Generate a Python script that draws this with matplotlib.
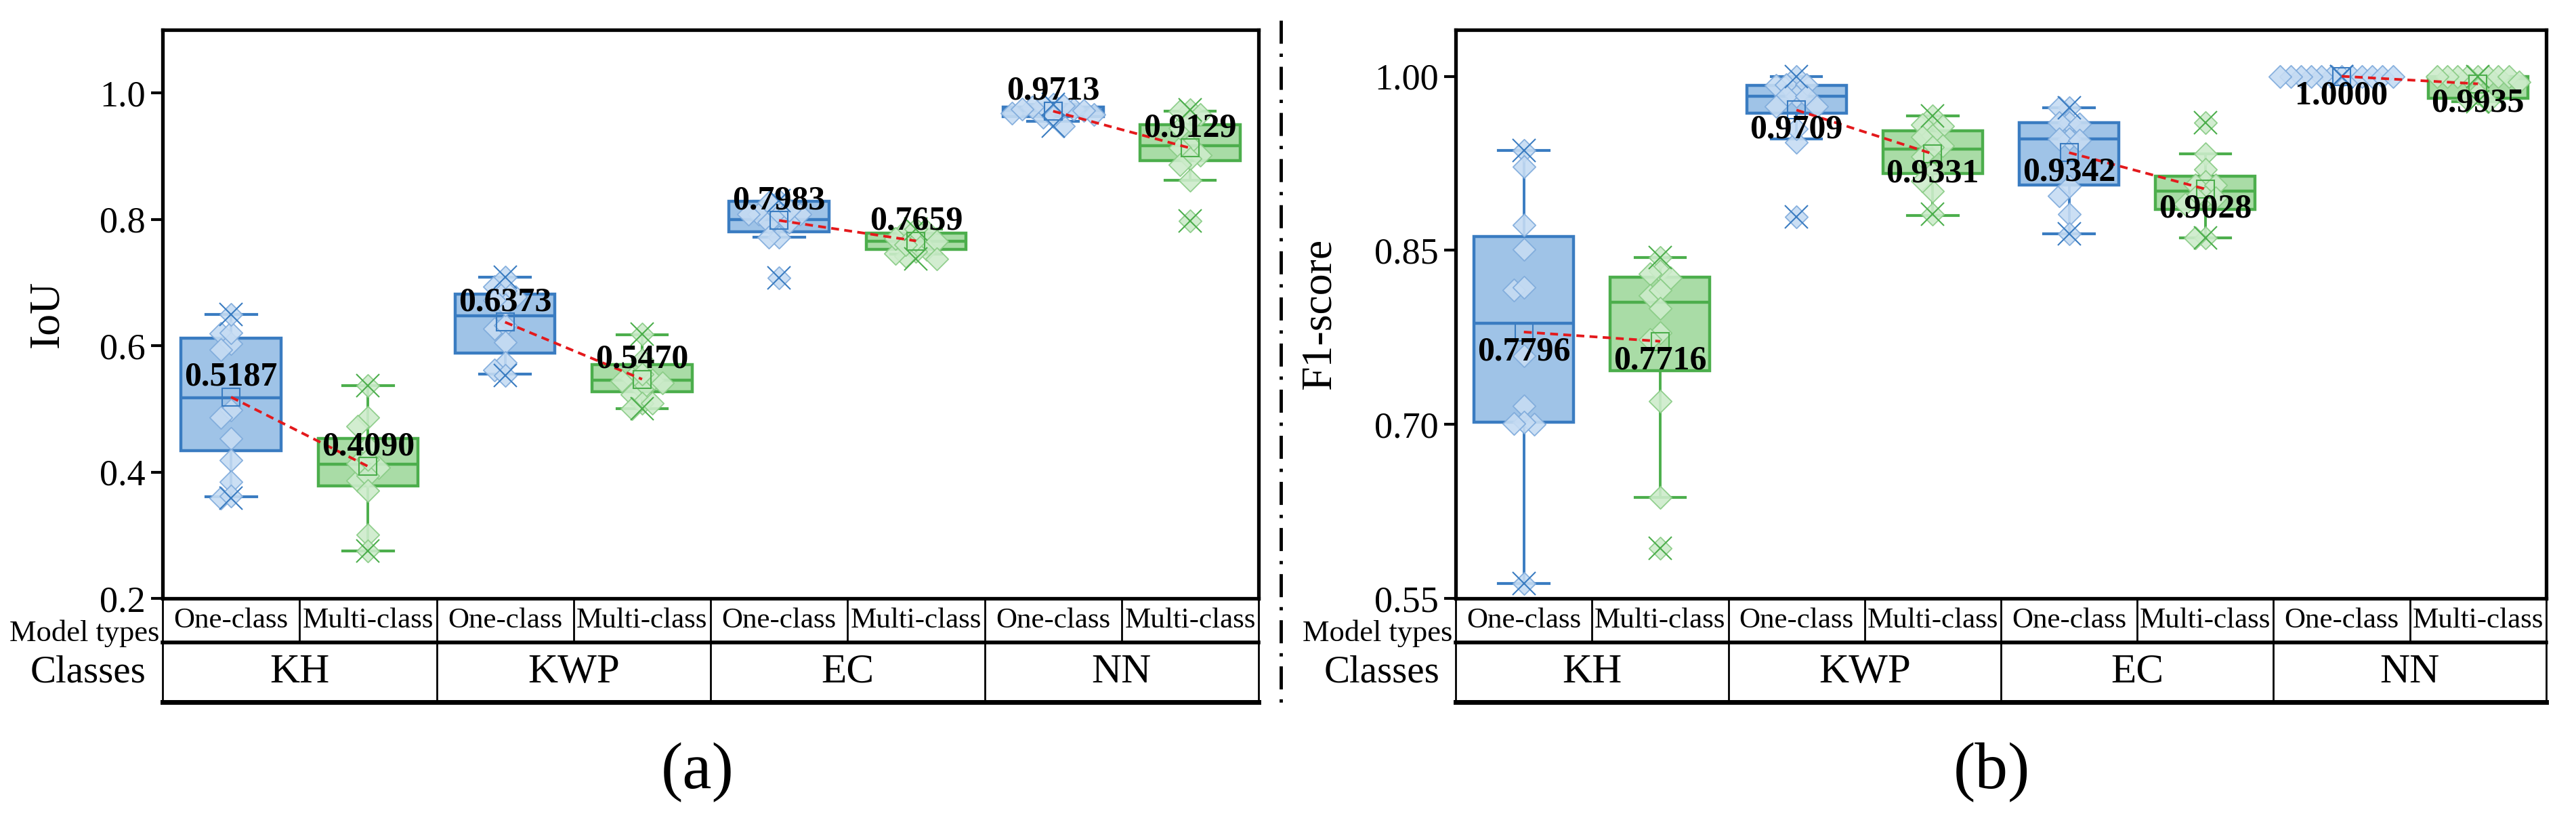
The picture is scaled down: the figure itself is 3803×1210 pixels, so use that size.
import matplotlib.pyplot as plt
import numpy as np
from matplotlib.lines import Line2D

plt.rcParams['font.family'] = ['Liberation Serif', 'DejaVu Serif']

model_types = ['One-class', 'Multi-class', 'One-class', 'Multi-class',
               'One-class', 'Multi-class', 'One-class', 'Multi-class']
classes = ['KH', 'KWP', 'EC', 'NN']

# Box order: KH one, KH multi, KWP one, KWP multi, EC one, EC multi, NN one, NN multi
iou_points = [
    [0.619, 0.603, 0.594, 0.621, 0.650, 0.498, 0.487, 0.453, 0.419, 0.385, 0.359, 0.362],
    [0.487, 0.473, 0.407, 0.387, 0.414, 0.394, 0.371, 0.301, 0.537, 0.275, 0.440, 0.420],
    [0.677, 0.693, 0.687, 0.709, 0.627, 0.632, 0.606, 0.573, 0.562, 0.553, 0.665, 0.672],
    [0.549, 0.546, 0.544, 0.541, 0.532, 0.523, 0.509, 0.509, 0.578, 0.618, 0.500, 0.555],
    [0.808, 0.795, 0.808, 0.830, 0.810, 0.808, 0.795, 0.772, 0.772, 0.707, 0.826, 0.815],
    [0.752, 0.749, 0.767, 0.782, 0.742, 0.746, 0.781, 0.770, 0.785, 0.760, 0.765, 0.737],
    [0.975, 0.968, 0.982, 0.962, 0.980, 0.948, 0.966, 0.980, 0.972, 0.978, 0.975, 0.963],
    [0.973, 0.966, 0.918, 0.913, 0.902, 0.896, 0.887, 0.862, 0.798, 0.971, 0.945, 0.955],
]
iou_q1 = [0.434, 0.378, 0.588, 0.527, 0.780, 0.752, 0.963, 0.893]
iou_med = [0.518, 0.412, 0.647, 0.545, 0.800, 0.765, 0.972, 0.917]
iou_q3 = [0.612, 0.453, 0.682, 0.570, 0.829, 0.778, 0.978, 0.950]
iou_lo = [0.361, 0.275, 0.555, 0.500, 0.772, 0.745, 0.955, 0.862]
iou_hi = [0.650, 0.537, 0.709, 0.617, 0.829, 0.785, 0.982, 0.971]
iou_mean = [0.5187, 0.4090, 0.6373, 0.5470, 0.7983, 0.7659, 0.9713, 0.9129]

f1_points = [
    [0.936, 0.922, 0.872, 0.851, 0.816, 0.818, 0.759, 0.716, 0.700, 0.702, 0.701, 0.563],
    [0.844, 0.832, 0.830, 0.826, 0.811, 0.816, 0.800, 0.779, 0.773, 0.720, 0.637, 0.593],
    [1.000, 0.992, 0.993, 0.993, 0.983, 0.983, 0.983, 0.974, 0.974, 0.943, 0.879, 0.955],
    [0.966, 0.958, 0.957, 0.949, 0.948, 0.940, 0.939, 0.931, 0.917, 0.901, 0.881, 0.910],
    [0.973, 0.973, 0.960, 0.960, 0.959, 0.946, 0.946, 0.945, 0.897, 0.881, 0.864, 0.905],
    [0.960, 0.933, 0.920, 0.909, 0.906, 0.906, 0.896, 0.896, 0.861, 0.861, 0.895, 0.890],
    [1.000, 1.000, 1.000, 1.000, 1.000, 1.000, 1.000, 1.000, 1.000, 1.000, 1.000, 1.000],
    [1.000, 1.000, 1.000, 1.000, 1.000, 1.000, 1.000, 1.000, 0.995, 0.985, 0.980, 0.978],
]
f1_q1 = [0.702, 0.746, 0.968, 0.916, 0.906, 0.885, 1.000, 0.981]
f1_med = [0.787, 0.805, 0.983, 0.937, 0.946, 0.901, 1.000, 0.998]
f1_q3 = [0.862, 0.827, 0.992, 0.953, 0.960, 0.914, 1.000, 1.000]
f1_lo = [0.563, 0.637, 0.946, 0.880, 0.864, 0.861, 1.000, 0.978]
f1_hi = [0.936, 0.844, 1.000, 0.966, 0.973, 0.933, 1.000, 1.000]
f1_mean = [0.7796, 0.7716, 0.9709, 0.9331, 0.9342, 0.9028, 1.0000, 0.9935]

# (box edge, box face, diamond face, diamond edge)
PALETTE = [('#3a7cc1', '#9fc3e7', '#c6dcf3', '#7eaadb'),
           ('#4cae4c', '#a9dca6', '#cdeccb', '#88cb84')]
RED = '#e3191c'


def swarm_offsets(vals, dx, dy, step):
    # Spread equal-ish values sideways so the diamonds do not stack
    vals = np.asarray(vals)
    offs = np.zeros(len(vals))
    placed = []
    cand = [0.0]
    for j in range(1, 30):
        cand += [-j * step, j * step]
    for i in np.argsort(-vals, kind='stable'):
        for c in cand:
            ok = all(abs(c - offs[p]) >= dx or abs(vals[i] - vals[p]) >= dy
                     for p in placed)
            if ok:
                offs[i] = c
                break
        placed.append(i)
    return offs


def draw_panel(ax, tab, points, q1, med, q3, lo, hi, means,
               ylim, yticks, yfmt, ylabel, label_dy, dy):
    pos = np.arange(1, 9)

    # Boxes
    stats = []
    for i in range(8):
        stats.append(dict(q1=q1[i], med=med[i], q3=q3[i],
                          whislo=lo[i], whishi=hi[i], fliers=[]))
    bp = ax.bxp(stats, positions=pos, widths=0.73, capwidths=0.37,
                patch_artist=True, showfliers=False, manage_ticks=False)
    for i in range(8):
        edge, face, dface, dedge = PALETTE[i % 2]
        bp['boxes'][i].set(facecolor=face, edgecolor=edge, linewidth=3.2,
                           zorder=2)
        bp['medians'][i].set(color=edge, linewidth=3.2, zorder=2.5)
        for k in (2 * i, 2 * i + 1):
            bp['whiskers'][k].set(color=edge, linewidth=2.8, zorder=1.5)
            bp['caps'][k].set(color=edge, linewidth=3, zorder=1.5)

    # Data points, min/max crosses and mean squares
    for i in range(8):
        edge, face, dface, dedge = PALETTE[i % 2]
        vals = np.array(points[i])
        offs = swarm_offsets(vals, 0.07, dy, 0.075)
        ax.scatter(pos[i] + offs, vals, marker='D', s=17 ** 2,
                   facecolor=dface, edgecolor=dedge, linewidths=1.3,
                   alpha=0.9, zorder=3)
        ax.plot([pos[i], pos[i]], [vals.min(), vals.max()], ls='none',
                marker='x', ms=24, mew=1.5, color=edge, zorder=4)
        ax.plot(pos[i], means[i], marker='s', ms=19, mfc='none',
                mec=edge, mew=1.5, zorder=4)

    # Mean connection and labels
    for c in range(4):
        ax.plot(pos[2 * c:2 * c + 2], means[2 * c:2 * c + 2], ls=(0, (3, 2)),
                color=RED, lw=2.8, zorder=5)
    for p, m in zip(pos, means):
        ax.annotate(f'{m:.4f}', (p, m), xytext=(0, label_dy),
                    textcoords='offset points', ha='center', va='center',
                    fontsize=36, fontweight='bold', zorder=6)

    ax.set_xlim(0.5, 8.5)
    ax.set_ylim(*ylim)
    ax.set_xticks([])
    ax.set_yticks(yticks)
    ax.set_yticklabels([yfmt.format(t) for t in yticks])
    ax.tick_params(axis='y', direction='out', length=12, width=3,
                   labelsize=39, pad=6)
    for s in ax.spines.values():
        s.set_linewidth(3.8)
    ax.set_ylabel(ylabel, fontsize=46)

    # Table under the axis
    split = 0.575
    tab.set_xlim(0.5, 8.5)
    tab.set_ylim(0, 1)
    tab.axis('off')
    tab.plot([0.5, 8.5], [split, split], color='k', lw=4, clip_on=False)
    tab.plot([0.5, 8.5], [0, 0], color='k', lw=5, clip_on=False)
    for b in range(9):
        bottom = 0 if b % 2 == 0 else split
        tab.plot([0.5 + b, 0.5 + b], [bottom, 1], color='k', lw=2,
                 clip_on=False)
    for p, name in zip(pos, model_types):
        tab.text(p, (split + 1) / 2, name, ha='center', va='center',
                 fontsize=31)
    for c, name in enumerate(classes):
        tab.text(2 * c + 1.5, split / 2, name, ha='center', va='center',
                 fontsize=44)
    tab.text(-0.003, 0.66, 'Model types', transform=tab.transAxes,
             ha='right', va='center', fontsize=32)
    tab.text(-0.068, split / 2, 'Classes', transform=tab.transAxes,
             ha='center', va='center', fontsize=41)


def main():
    fig = plt.figure(figsize=(38.03, 12.10), dpi=100)

    ax1 = fig.add_axes([0.0631, 0.2702, 0.4255, 0.6934])
    tab1 = fig.add_axes([0.0631, 0.1438, 0.4255, 0.1264])
    ax2 = fig.add_axes([0.5651, 0.2702, 0.4233, 0.6934])
    tab2 = fig.add_axes([0.5651, 0.1438, 0.4233, 0.1264])

    draw_panel(ax1, tab1, iou_points, iou_q1, iou_med, iou_q3, iou_lo,
               iou_hi, iou_mean, (0.2, 1.1), [0.2, 0.4, 0.6, 0.8, 1.0],
               '{:.1f}', 'IoU', 21, 0.018)
    draw_panel(ax2, tab2, f1_points, f1_q1, f1_med, f1_q3, f1_lo,
               f1_hi, f1_mean, (0.55, 1.04), [0.55, 0.70, 0.85, 1.00],
               '{:.2f}', 'F1-score', -21, 0.010)
    ax1.yaxis.set_label_coords(-0.087, 0.5)
    ax2.yaxis.set_label_coords(-0.1065, 0.5)

    # Divider between panels
    fig.add_artist(Line2D([0.4972, 0.4972], [0.975, 0.132], color='k',
                          lw=3.5, ls=(0, (7, 3, 1, 3))))

    fig.text(1030 / 3803, 1 - 1140 / 1210, '(a)', ha='center', va='center',
             fontsize=70)
    fig.text(2940 / 3803, 1 - 1140 / 1210, '(b)', ha='center', va='center',
             fontsize=70)

    fig.savefig('out.png', dpi=100, facecolor='white')


if __name__ == '__main__':
    main()
